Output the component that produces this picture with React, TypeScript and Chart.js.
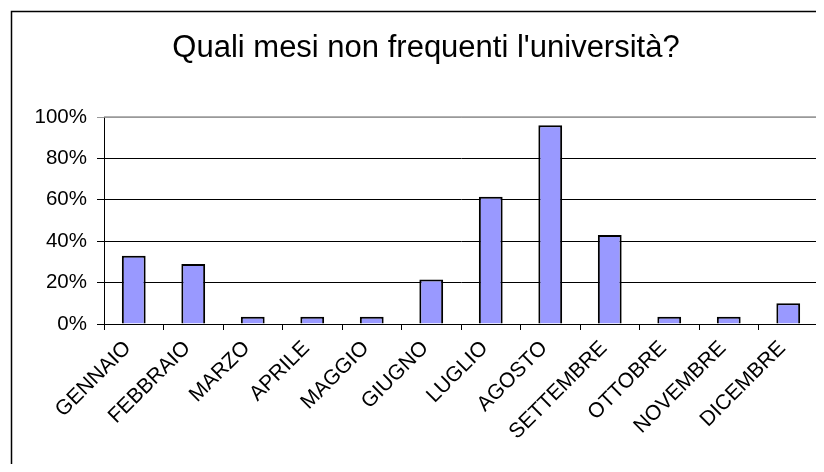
import React, { useEffect, useRef } from "react";
import { Chart, registerables } from "chart.js";

Chart.register(...registerables);

const TITLE = "Quali mesi non frequenti l'università?";
const months = [
  "GENNAIO", "FEBBRAIO", "MARZO", "APRILE", "MAGGIO", "GIUGNO",
  "LUGLIO", "AGOSTO", "SETTEMBRE", "OTTOBRE", "NOVEMBRE", "DICEMBRE",
];
const percentages = [33, 29, 3.5, 3.5, 3.5, 21.5, 61.5, 96, 43, 3.5, 3.5, 10];
const yTicks = [0, 20, 40, 60, 80, 100];

const FONT = "'Liberation Sans', Arial, sans-serif";

const framePlugin = {
  id: "frame",
  beforeDraw(chart: any) {
    const { ctx, width, height } = chart;
    ctx.save();
    ctx.fillStyle = "#ffffff";
    ctx.fillRect(0, 0, width, height);
    ctx.strokeStyle = "#000";
    ctx.lineWidth = 1.5;
    ctx.beginPath();
    ctx.moveTo(3.5, height + 5);
    ctx.lineTo(3.5, 3.5);
    ctx.lineTo(width + 5, 3.5);
    ctx.stroke();
    ctx.fillStyle = "#000";
    ctx.font = `31px ${FONT}`;
    ctx.textAlign = "center";
    ctx.textBaseline = "alphabetic";
    ctx.fillText(TITLE, 418, 49);
    ctx.restore();
  },
  afterDatasetsDraw(chart: any) {
    const { ctx, chartArea } = chart;
    ctx.save();
    ctx.strokeStyle = "#999";
    ctx.lineWidth = 1.5;
    ctx.beginPath();
    ctx.moveTo(chartArea.left, chartArea.top);
    ctx.lineTo(chartArea.right, chartArea.top);
    ctx.lineTo(chartArea.right, chartArea.bottom);
    ctx.stroke();
    ctx.restore();
  },
};

export default function App() {
  const ref = useRef<HTMLCanvasElement | null>(null);
  useEffect(() => {
    if (!ref.current) return;
    const chart = new Chart(ref.current, {
      type: "bar",
      data: {
        labels: months,
        datasets: [
          {
            data: percentages,
            backgroundColor: "#9999ff",
            borderColor: "#000000",
            borderWidth: 2,
            barPercentage: 0.4,
            categoryPercentage: 1,
          },
        ],
      },
      options: {
        responsive: false,
        animation: false,
        layout: { padding: { top: 109, right: 6, left: 0, bottom: 0 } },
        plugins: {
          legend: { display: false },
          title: { display: false },
          tooltip: { enabled: false },
        },
        scales: {
          x: {
            offset: true,
            grid: {
              offset: true,
              drawOnChartArea: false,
              drawTicks: true,
              tickLength: 6,
              color: "#000",
              lineWidth: 1,
            },
            border: { display: true, color: "#000", width: 1 },
            ticks: {
              autoSkip: false,
              maxRotation: 45,
              minRotation: 45,
              color: "#000",
              font: { family: FONT, size: 21 },
              padding: 6,
              labelOffset: -6,
            },
            afterFit(scale: any) {
              scale.height = 140;
            },
          },
          y: {
            min: 0,
            max: 100,
            afterBuildTicks(scale: any) {
              scale.ticks = yTicks.map((v) => ({ value: v }));
            },
            grid: {
              color: (c: any) => (c.tick && c.tick.value === 100 ? "#999" : "#000"),
              lineWidth: 1,
              tickLength: 7,
              drawTicks: true,
            },
            border: { display: true, color: "#000", width: 1 },
            ticks: {
              color: "#000",
              font: { family: FONT, size: 20.5 },
              padding: 10,
              callback: (v: any) => `${v}%`,
            },
            afterFit(scale: any) {
              scale.width = 96;
            },
          },
        },
      },
      plugins: [framePlugin],
    });
    return () => chart.destroy();
  }, []);
  return <canvas ref={ref} width={816} height={456} style={{ display: "block" }} />;
}
